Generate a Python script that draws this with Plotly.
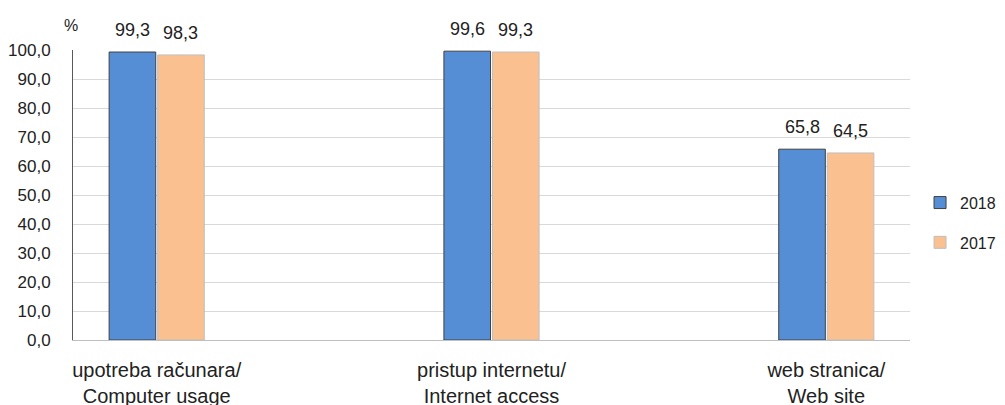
import plotly.graph_objects as go

categories = ["upotreba računara/<br>Computer usage", "pristup internetu/<br>Internet access", "web stranica/<br>Web site"]
values_2018 = [99.3, 99.6, 65.8]
values_2017 = [98.3, 99.3, 64.5]
labels_2018 = ["99,3", "99,6", "65,8"]
labels_2017 = ["98,3", "99,3", "64,5"]
y_ticks = [0, 10, 20, 30, 40, 50, 60, 70, 80, 90, 100]

xpos = list(range(len(categories)))
font = "Liberation Sans, Arial, sans-serif"
BARGAP = 0.71
GROUPGAP = 0.04
slot = (1 - BARGAP) / 2
TXT = "#222222"

fig = go.Figure()
fig.add_trace(go.Bar(
    x=xpos, y=values_2018, name="2018", legendgroup="a",
    marker=dict(color="#558ED5", line=dict(color="#404040", width=1)),
))
fig.add_trace(go.Bar(
    x=xpos, y=values_2017, name="2017", legendgroup="b",
    marker=dict(color="#FAC090", line=dict(color="#BFBFBF", width=1)),
))

annotations = []
for i, (v, t) in enumerate(zip(values_2018, labels_2018)):
    annotations.append(dict(x=i - slot / 2, y=v, text=t, xref="x", yref="y",
                            yanchor="bottom", xanchor="center", yshift=10,
                            showarrow=False, font=dict(size=18, color=TXT)))
for i, (v, t) in enumerate(zip(values_2017, labels_2017)):
    annotations.append(dict(x=i + slot / 2, y=v, text=t, xref="x", yref="y",
                            yanchor="bottom", xanchor="center", yshift=10,
                            showarrow=False, font=dict(size=18, color=TXT)))
annotations.append(dict(text="%", xref="paper", yref="paper", x=-0.002, y=1.086,
                        xanchor="center", yanchor="middle", showarrow=False,
                        font=dict(size=16, color=TXT)))

fig.update_layout(
    width=1005, height=405,
    margin=dict(l=65, r=103, t=42, b=73, autoexpand=False),
    paper_bgcolor="white", plot_bgcolor="white",
    barmode="group", bargap=BARGAP, bargroupgap=GROUPGAP,
    separators=",.",
    font=dict(family=font, size=17, color=TXT),
    showlegend=True,
    legend=dict(xref="container", yref="container", x=0.9075, y=0.47,
                xanchor="left", yanchor="middle",
                tracegroupgap=16, itemwidth=30, font=dict(size=16)),
    xaxis=dict(
        range=[-0.25, 2.25], tickvals=xpos, ticktext=categories,
        showgrid=False, showline=True, linecolor="#BFBFBF", linewidth=1,
        ticks="outside", ticklen=12, tickcolor="rgba(0,0,0,0)",
        zeroline=False, tickfont=dict(size=20), automargin=False,
    ),
    yaxis=dict(
        range=[0, 100], tickvals=y_ticks, tickformat=".1f",
        showgrid=True, gridcolor="#D9D9D9", gridwidth=1,
        showline=True, linecolor="#595959", linewidth=1,
        ticks="outside", ticklen=18, tickcolor="rgba(0,0,0,0)",
        zeroline=False, tickfont=dict(size=17), automargin=False,
    ),
    annotations=annotations,
)

fig.write_html("out.html")
